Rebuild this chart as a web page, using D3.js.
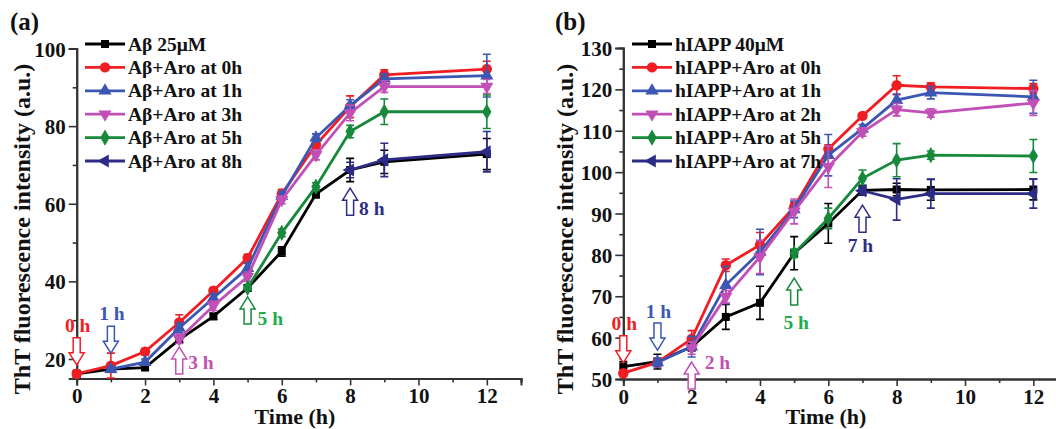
<!DOCTYPE html>
<html lang="en">
<head>
<meta charset="UTF-8">
<title>ThT kinetics</title>
<script src="https://d3js.org/d3.v7.min.js"></script>
<style>
  body { margin: 0; background: #fff; }
  svg text { font-family: "Liberation Serif", "Times New Roman", serif; font-weight: bold; }
</style>
</head>
<body>
<svg id="chart" width="1056" height="429"></svg>
<script>
// ---- data, panel (a): Abeta 25uM ----
var aNames = ["A\u03b2 25\u03bcM", "A\u03b2+Aro at 0h", "A\u03b2+Aro at 1h", "A\u03b2+Aro at 3h", "A\u03b2+Aro at 5h", "A\u03b2+Aro at 8h"];
var aTimes = [
  [0, 1, 2, 3, 4, 5, 6, 7, 8, 9, 12],
  [0, 1, 2, 3, 4, 5, 6, 7, 8, 9, 12],
  [1, 2, 3, 4, 5, 6, 7, 8, 9, 12],
  [3, 4, 5, 6, 7, 8, 9, 12],
  [5, 6, 7, 8, 9, 12],
  [8, 9, 12]
];
var aValues = [
  [16.2, 17.4, 17.8, 25.0, 31.0, 38.3, 47.7, 62.5, 68.7, 70.8, 72.8],
  [16.2, 18.3, 21.9, 29.4, 37.6, 46.0, 62.5, 75.2, 85.0, 93.2, 94.7],
  [17.4, 19.2, 28.0, 35.7, 43.4, 62.0, 77.0, 85.3, 92.2, 93.0],
  [25.2, 33.7, 41.2, 61.0, 72.6, 83.4, 90.2, 90.2],
  [38.3, 52.5, 64.4, 78.6, 83.7, 83.7],
  [68.7, 71.3, 73.4]
];
var aErrors = [
  [0.8, 0.8, 0.6, 0.8, 0.8, 0.8, 1.2, 1.0, 3.0, 3.0, 4.0],
  [0.5, 3.2, 0.8, 2.0, 0.8, 1.0, 1.2, 1.2, 2.8, 1.3, 2.0],
  [0.6, 0.8, 1.2, 1.0, 1.2, 1.0, 1.0, 1.5, 1.2, 5.5],
  [1.2, 1.2, 1.2, 1.0, 1.3, 2.0, 1.5, 1.8],
  [0.6, 1.0, 1.0, 1.6, 3.3, 4.3],
  [2.0, 4.3, 5.2]
];
var aXTicks = [0, 2, 4, 6, 8, 10, 12];
var aYTicks = [20, 40, 60, 80, 100];
var aArrows = [
  {t: 0, v: 18.5, dir: "down", label: "0 h"},
  {t: 1, v: 21.5, dir: "down", label: "1 h"},
  {t: 3, v: 23.1, dir: "up", label: "3 h"},
  {t: 5, v: 36.0, dir: "up", label: "5 h"},
  {t: 8, v: 64.0, dir: "up", label: "8 h"}
];

// ---- data, panel (b): hIAPP 40uM ----
var bNames = ["hIAPP 40\u03bcM", "hIAPP+Aro at 0h", "hIAPP+Aro at 1h", "hIAPP+Aro at 2h", "hIAPP+Aro at 5h", "hIAPP+Aro at 7h"];
var bTimes = [
  [0, 1, 2, 3, 4, 5, 6, 7, 8, 9, 12],
  [0, 1, 2, 3, 4, 5, 6, 7, 8, 9, 12],
  [1, 2, 3, 4, 5, 6, 7, 8, 9, 12],
  [2, 3, 4, 5, 6, 7, 8, 9, 12],
  [5, 6, 7, 8, 9, 12],
  [7, 8, 9, 12]
];
var bValues = [
  [53.0, 54.2, 57.8, 65.0, 68.4, 80.4, 87.6, 95.6, 95.8, 95.7, 95.8],
  [51.4, 54.0, 59.7, 77.5, 82.4, 91.6, 105.6, 113.6, 121.0, 120.6, 120.2],
  [54.0, 57.8, 72.7, 80.7, 91.0, 104.1, 110.5, 117.4, 119.2, 118.2],
  [57.5, 69.9, 79.5, 90.5, 101.3, 109.7, 115.1, 114.3, 116.7],
  [80.4, 88.8, 98.5, 102.9, 104.1, 103.9],
  [95.5, 93.4, 94.8, 94.8]
];
var bErrors = [
  [1.2, 1.8, 1.0, 3.0, 4.0, 4.0, 4.8, 1.2, 1.5, 2.5, 2.5],
  [0.8, 1.0, 2.0, 1.5, 3.0, 1.0, 1.0, 0.6, 2.3, 1.0, 1.2],
  [1.0, 2.5, 4.5, 5.5, 2.0, 5.0, 1.0, 1.5, 1.5, 4.0],
  [1.5, 1.5, 4.0, 3.0, 5.0, 1.0, 1.5, 1.0, 3.0],
  [1.0, 2.5, 2.0, 4.0, 1.0, 4.0],
  [1.0, 5.0, 3.5, 3.5]
];
var bXTicks = [0, 2, 4, 6, 8, 10, 12];
var bYTicks = [50, 60, 70, 80, 90, 100, 110, 120, 130];
var bArrows = [
  {t: 0, v: 53.9, dir: "down", label: "0 h"},
  {t: 1, v: 57.0, dir: "down", label: "1 h"},
  {t: 2, v: 54.1, dir: "up", label: "2 h"},
  {t: 5, v: 74.4, dir: "up", label: "5 h"},
  {t: 7, v: 92.0, dir: "up", label: "7 h"}
];

// colours and markers shared by both panels
var lineColors = ["#000000", "#f01e23", "#3b56b3", "#c24fb6", "#17893b", "#2c2c86"];
var labelColors = ["#000000", "#f01e23", "#3b56b3", "#c24fb6", "#1fac4a", "#2c2c86"];
var markers = [
  {type: d3.symbolSquare, size: 64, rot: 0},
  {type: d3.symbolCircle, size: 85, rot: 0},
  {type: d3.symbolTriangle, size: 75, rot: 0},
  {type: d3.symbolTriangle, size: 75, rot: 180},
  {type: d3.symbolDiamond, size: 75, rot: 0},
  {type: d3.symbolTriangle, size: 75, rot: -90}
];

var svg = d3.select("#chart");

function drawPanel(cfg) {
  var g = svg.append("g");
  var x = d3.scaleLinear().domain([0, 13]).range(cfg.xRange);
  var y = d3.scaleLinear().domain(cfg.yDomain).range(cfg.yRange);

  // axes (left + bottom only)
  g.append("g")
    .attr("transform", "translate(0," + cfg.yRange[0] + ")")
    .call(d3.axisBottom(x).tickValues(cfg.xTicks).tickSize(7).tickPadding(3).tickFormat(d3.format("d")));
  g.append("g")
    .attr("transform", "translate(0," + cfg.yRange[0] + ")")
    .call(d3.axisBottom(x).tickValues(d3.range(1, 14, 2)).tickSize(4).tickFormat(""));
  var yAxis = g.append("g")
    .attr("transform", "translate(" + cfg.xRange[0] + ",0)")
    .call(d3.axisLeft(y).tickValues(cfg.yTicks).tickSize(8).tickPadding(3));
  g.append("g")
    .attr("transform", "translate(" + cfg.xRange[0] + ",0)")
    .call(d3.axisLeft(y).tickValues(cfg.yMinor).tickSize(4).tickFormat(""));

  g.selectAll(".domain").attr("stroke", "#333").attr("stroke-width", 2);
  g.selectAll(".tick line").attr("stroke", "#333").attr("stroke-width", 1.6);
  g.selectAll(".tick text").attr("fill", "#111").style("font-size", "21px");
  yAxis.selectAll(".tick text").attr("dy", "0.36em");

  // series
  cfg.names.forEach(function(name, i) {
    var pts = cfg.times[i].map(function(t, j) {
      return {t: t, v: cfg.values[i][j], e: cfg.errors[i][j]};
    });
    var col = lineColors[i];
    var s = g.append("g");

    s.selectAll("path.err")
      .data(pts).enter().append("path")
      .attr("class", "err")
      .attr("fill", "none")
      .attr("stroke", col)
      .attr("stroke-width", 1.6)
      .attr("d", function(d) {
        var cx = x(d.t), y1 = y(d.v + d.e), y2 = y(d.v - d.e);
        return "M" + (cx - 4) + "," + y1 + "H" + (cx + 4) +
               "M" + cx + "," + y1 + "V" + y2 +
               "M" + (cx - 4) + "," + y2 + "H" + (cx + 4);
      });

    s.append("path")
      .datum(pts)
      .attr("fill", "none")
      .attr("stroke", col)
      .attr("stroke-width", 2.8)
      .attr("d", d3.line().x(function(d) { return x(d.t); }).y(function(d) { return y(d.v); }));

    var sym = d3.symbol().type(markers[i].type).size(markers[i].size);
    s.selectAll("path.mk")
      .data(pts).enter().append("path")
      .attr("class", "mk")
      .attr("fill", col)
      .attr("transform", function(d) {
        return "translate(" + x(d.t) + "," + y(d.v) + ") rotate(" + markers[i].rot + ")";
      })
      .attr("d", sym);

    // legend row
    var ly = cfg.legendY + i * 23.4;
    var lx = cfg.legendX;
    g.append("line")
      .attr("x1", lx).attr("x2", lx + 40)
      .attr("y1", ly).attr("y2", ly)
      .attr("stroke", col).attr("stroke-width", 2.8);
    g.append("path")
      .attr("fill", col)
      .attr("transform", "translate(" + (lx + 20) + "," + ly + ") rotate(" + markers[i].rot + ")")
      .attr("d", sym);
    g.append("text")
      .attr("x", lx + 43).attr("y", ly + 6.5)
      .style("font-size", "19.5px")
      .attr("fill", "#111")
      .text(name);
  });

  // hollow block arrows with time labels
  cfg.arrows.forEach(function(a, k) {
    var col = lineColors[cfg.arrowSeries[k]];
    var lcol = labelColors[cfg.arrowSeries[k]];
    var cx = x(a.t), tip = y(a.v);
    var sgn = a.dir === "down" ? -1 : 1;   // direction from tip to tail
    var len = 27, headL = 12, sw = 3.5, hw = 7.5;
    var yh = tip + sgn * headL, tail = tip + sgn * len;
    var p = "M" + cx + "," + tip +
            "L" + (cx + hw) + "," + yh +
            "L" + (cx + sw) + "," + yh +
            "L" + (cx + sw) + "," + tail +
            "L" + (cx - sw) + "," + tail +
            "L" + (cx - sw) + "," + yh +
            "L" + (cx - hw) + "," + yh + "Z";
    g.append("path")
      .attr("d", p)
      .attr("fill", "#fff")
      .attr("stroke", col)
      .attr("stroke-width", 1.5);
    var lp = cfg.labelPos[k];
    g.append("text")
      .attr("x", cx + lp[0])
      .attr("y", tail + lp[1])
      .attr("text-anchor", lp[2])
      .style("font-size", "19.5px")
      .attr("fill", lcol)
      .text(a.label);
  });

  // axis titles and panel letter
  g.append("text")
    .attr("transform", "translate(" + cfg.yTitleX + ",229) rotate(-90)")
    .attr("text-anchor", "middle")
    .style("font-size", "24px")
    .attr("fill", "#111")
    .text("ThT fluorescence intensity (a.u.)");
  g.append("text")
    .attr("x", cfg.xTitleX).attr("y", 424)
    .attr("text-anchor", "middle")
    .style("font-size", "22px")
    .attr("fill", "#111")
    .text("Time (h)");
  g.append("text")
    .attr("x", cfg.letterX).attr("y", 30)
    .style("font-size", "25px")
    .attr("fill", "#111")
    .text(cfg.letter);
}

drawPanel({
  names: aNames, times: aTimes, values: aValues, errors: aErrors,
  xTicks: aXTicks, yTicks: aYTicks, yMinor: [30, 50, 70, 90],
  xRange: [76.7, 521], yDomain: [15, 100], yRange: [378.4, 48.5],
  legendX: 85, legendY: 44,
  arrows: aArrows, arrowSeries: [1, 2, 3, 4, 5],
  labelPos: [[1, -6, "middle"], [1, -6, "middle"], [9, -5, "start"], [10, 1, "start"], [9, 0, "start"]],
  yTitleX: 30, xTitleX: 295, letterX: 10, letter: "(a)"
});

drawPanel({
  names: bNames, times: bTimes, values: bValues, errors: bErrors,
  xTicks: bXTicks, yTicks: bYTicks, yMinor: [55, 65, 75, 85, 95, 105, 115, 125],
  xRange: [623.3, 1067.5], yDomain: [50, 130], yRange: [379, 48],
  legendX: 632, legendY: 44,
  arrows: bArrows, arrowSeries: [1, 2, 3, 4, 5],
  labelPos: [[1, -6, "middle"], [1, -5, "middle"], [13, -20, "start"], [2, 24, "middle"], [-2, 20, "middle"]],
  yTitleX: 573, xTitleX: 826, letterX: 555, letter: "(b)"
});
</script>
</body>
</html>
